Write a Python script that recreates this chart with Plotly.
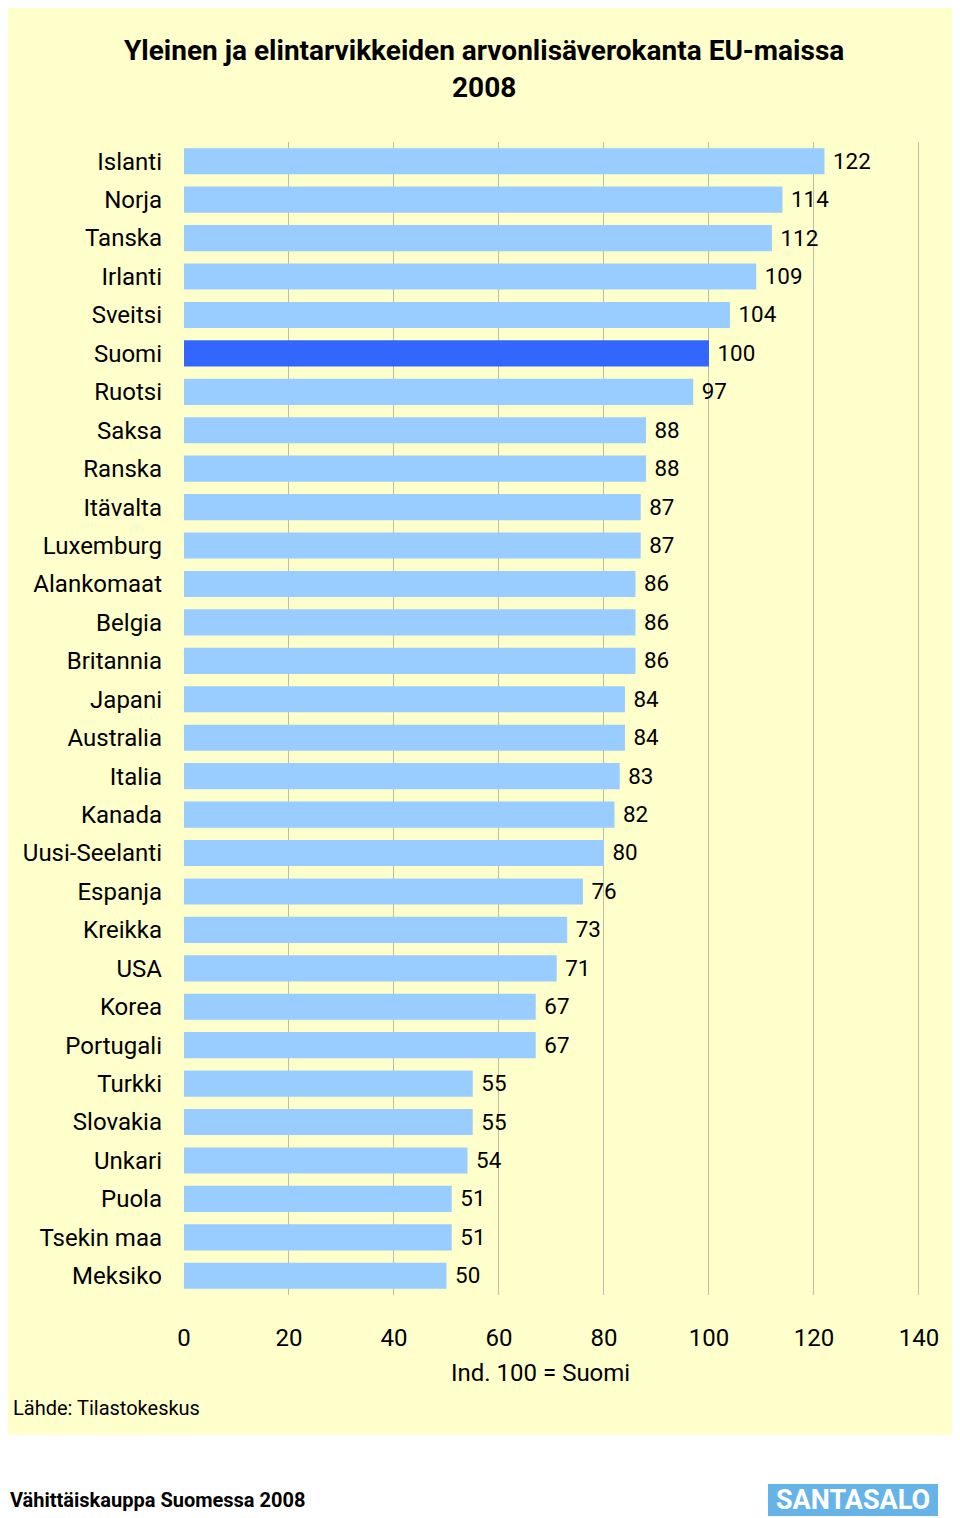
import plotly.graph_objects as go

countries = ["Islanti", "Norja", "Tanska", "Irlanti", "Sveitsi", "Suomi", "Ruotsi",
             "Saksa", "Ranska", "Itävalta", "Luxemburg", "Alankomaat", "Belgia",
             "Britannia", "Japani", "Australia", "Italia", "Kanada", "Uusi-Seelanti",
             "Espanja", "Kreikka", "USA", "Korea", "Portugali", "Turkki", "Slovakia",
             "Unkari", "Puola", "Tsekin maa", "Meksiko"]
values = [122, 114, 112, 109, 104, 100, 97, 88, 88, 87, 87, 86, 86, 86, 84, 84,
          83, 82, 80, 76, 73, 71, 67, 67, 55, 55, 54, 51, 51, 50]
x_ticks = [0, 20, 40, 60, 80, 100, 120, 140]

FONT = "Roboto, Liberation Sans, sans-serif"
colors = ["#3366FF" if c == "Suomi" else "#99CCFF" for c in countries]

OFF = 8  # body margin of the page
W, H = 960 - OFF, 1518 - OFF
L, R, T, B = 184 - OFF, 40, 142 - OFF, 223
pw, ph = W - L - R, H - T - B


def px(x):
    return (x - OFF - L) / pw


def py(y):
    return (H - B - (y - OFF)) / ph


fig = go.Figure(go.Bar(
    x=values, y=countries, orientation="h",
    marker=dict(color=colors, line=dict(width=0)),
    texttemplate=" %{x}", textposition="outside",
    textfont=dict(family=FONT, size=24, color="black"),
    cliponaxis=False,
))

fig.update_layout(
    width=W, height=H,
    margin=dict(l=L, r=R, t=T, b=B, autoexpand=False),
    paper_bgcolor="white", plot_bgcolor="rgba(0,0,0,0)",
    bargap=0.32, showlegend=False,
    font=dict(family=FONT, color="black"),
    xaxis=dict(range=[0, 140.2], tickvals=x_ticks, showgrid=True, gridcolor="#BDBDA8",
               gridwidth=1, zeroline=False, showline=False, ticks="", automargin=False,
               tickfont=dict(family=FONT, size=24, color="black"),
               ticklabelstandoff=26),
    yaxis=dict(autorange="reversed", showgrid=False, zeroline=False, showline=False,
               ticks="", automargin=False,
               tickfont=dict(family=FONT, size=24, color="black"),
               ticklabelstandoff=21),
    shapes=[dict(type="rect", xref="paper", yref="paper", layer="below",
                 x0=px(7), x1=px(958), y0=py(1435), y1=py(8),
                 fillcolor="#FFFFCC", line=dict(width=0)),
            dict(type="rect", xref="paper", yref="paper", layer="above",
                 x0=px(768), x1=px(938), y0=py(1516), y1=py(1484),
                 fillcolor="#66B3E8", line=dict(width=0))],
    annotations=[
        dict(text="<b>Yleinen ja elintarvikkeiden arvonlisäverokanta EU-maissa</b>",
             xref="paper", yref="paper", x=px(484), y=py(50), xanchor="center", yanchor="middle",
             showarrow=False, font=dict(family=FONT, size=28, color="black")),
        dict(text="<b>2008</b>",
             xref="paper", yref="paper", x=px(484), y=py(88), xanchor="center", yanchor="middle",
             showarrow=False, font=dict(family=FONT, size=28, color="black")),
        dict(text="Ind. 100 = Suomi", xref="paper", yref="paper", x=px(540), y=py(1373),
             xanchor="center", yanchor="middle", showarrow=False,
             font=dict(family=FONT, size=24, color="black")),
        dict(text="Lähde: Tilastokeskus", xref="paper", yref="paper", x=px(11), y=py(1408),
             xanchor="left", yanchor="middle", showarrow=False,
             font=dict(family=FONT, size=20, color="black")),
        dict(text="<b>Vähittäiskauppa Suomessa 2008</b>", xref="paper", yref="paper",
             x=px(8), y=py(1500), xanchor="left", yanchor="middle", showarrow=False,
             font=dict(family=FONT, size=20, color="black")),
        dict(text="<b>SANTASALO</b>", xref="paper", yref="paper", x=px(853), y=py(1500),
             xanchor="center", yanchor="middle", showarrow=False,
             font=dict(family=FONT, size=27, color="white")),
    ],
)

fig.write_html("out.html")
